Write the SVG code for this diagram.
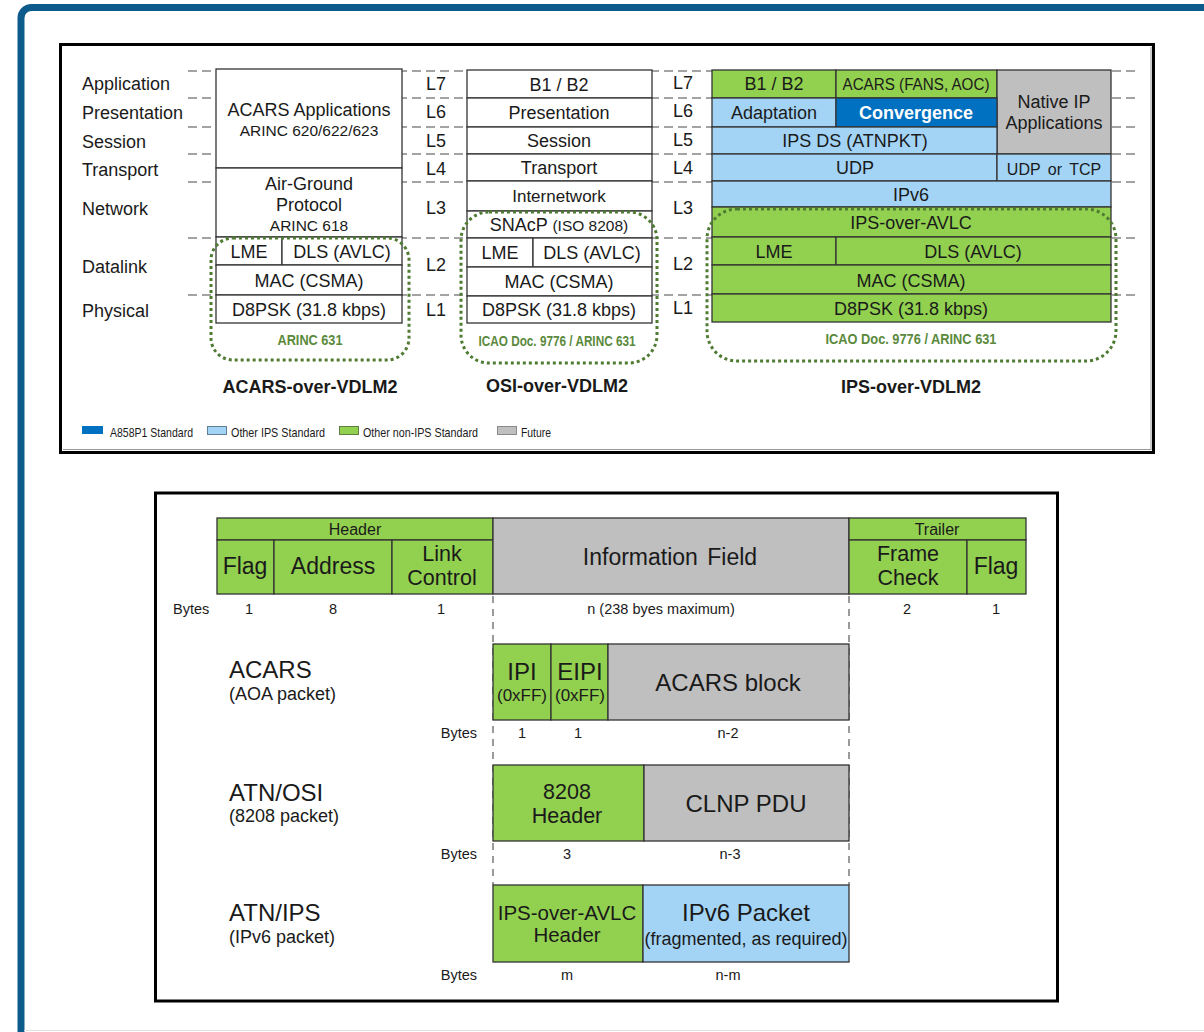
<svg xmlns="http://www.w3.org/2000/svg" width="1204" height="1032" viewBox="0 0 1204 1032">
<style>
  text { font-family: "Liberation Sans", Arial, Helvetica, sans-serif; fill: #1a1a1a; }
  .c { text-anchor: middle; }
  .f18 { font-size: 18px; }
  .f16 { font-size: 16px; }
  .f15 { font-size: 15.5px; }
  .f22 { font-size: 23px; }
  .f2l { font-size: 21.5px; }
  .f24 { font-size: 24px; }
  .sm { font-size: 14.5px; }
  .lg { font-size: 13.5px; }
  .b { font-weight: bold; }
  .cell { stroke: #333; stroke-width: 1.3; }
  .w { fill: #fff; }
  .g { fill: #92d050; }
  .lb { fill: #a3d4f6; }
  .db { fill: #0070c0; }
  .gr { fill: #bfbfbf; }
  .guide { stroke: #a3a3a3; stroke-width: 2; stroke-dasharray: 9 5; fill: none; }
  .vguide { stroke: #9a9a9a; stroke-width: 2; stroke-dasharray: 7 6; fill: none; }
  .dot { fill: none; stroke: #4f7b33; stroke-width: 3; stroke-dasharray: 3 3; }
  .std { fill: #5b8a3c; font-weight: bold; font-size: 14px; }
  .panel { fill: #fff; stroke: #000; stroke-width: 3; }
</style>

<rect width="1204" height="1032" fill="#fff"/>
<!-- page frame -->
<path d="M21 1032 V18 A10.5 10.5 0 0 1 31.5 7.5 H1204" fill="none" stroke="#0d5a8c" stroke-width="7"/>
<line x1="24" y1="1030.5" x2="1204" y2="1030.5" stroke="#e2e2e2" stroke-width="1"/>

<!-- ================= protocol stacks panel ================= -->
<g id="stack-panel">
  <rect class="panel" x="60.5" y="44.5" width="1093" height="408"/>
  <line x1="1151" y1="47" x2="1151" y2="450" stroke="#9a9a9a" stroke-width="1"/>
  <line x1="63" y1="449.5" x2="1151" y2="449.5" stroke="#9a9a9a" stroke-width="1"/>
</g>

<g id="layer-guides">
  <path class="guide" d="M188 71H1135 M188 98H1135 M188 127H1135 M188 154H1135 M188 182H1135 M188 238H1135 M188 295H1135"/>
</g>

<g id="osi-layer-names" class="f18">
  <text x="82" y="90">Application</text>
  <text x="82" y="119">Presentation</text>
  <text x="82" y="148">Session</text>
  <text x="82" y="176">Transport</text>
  <text x="82" y="215">Network</text>
  <text x="82" y="273">Datalink</text>
  <text x="82" y="317">Physical</text>
</g>

<g id="layer-numbers" class="f18 c">
  <text x="436" y="90">L7</text>
  <text x="436" y="118">L6</text>
  <text x="436" y="147">L5</text>
  <text x="436" y="175">L4</text>
  <text x="436" y="214">L3</text>
  <text x="436" y="271">L2</text>
  <text x="436" y="316">L1</text>
  <text x="683" y="89">L7</text>
  <text x="683" y="117">L6</text>
  <text x="683" y="146">L5</text>
  <text x="683" y="174">L4</text>
  <text x="683" y="214">L3</text>
  <text x="683" y="270">L2</text>
  <text x="683" y="314">L1</text>
</g>

<!-- ACARS over VDL Mode 2 -->
<g id="acars-stack">
  <rect class="cell w" x="216" y="69" width="186" height="99"/>
  <rect class="cell w" x="216" y="168" width="186" height="69"/>
  <rect class="cell w" x="216" y="237" width="66" height="28"/>
  <rect class="cell w" x="282" y="237" width="120" height="28"/>
  <rect class="cell w" x="216" y="265" width="186" height="30"/>
  <rect class="cell w" x="216" y="295" width="186" height="28"/>
  <text class="f18 c" x="309" y="116">ACARS Applications</text>
  <text class="f15 c" x="309" y="136">ARINC 620/622/623</text>
  <text class="f18 c" x="309" y="190">Air-Ground</text>
  <text class="f18 c" x="309" y="211">Protocol</text>
  <text class="f15 c" x="309" y="231">ARINC 618</text>
  <text class="f18 c" x="249" y="258">LME</text>
  <text class="f18 c" x="342" y="258">DLS (AVLC)</text>
  <text class="f18 c" x="309" y="287">MAC (CSMA)</text>
  <text class="f18 c" x="309" y="316">D8PSK (31.8 kbps)</text>
  <rect class="dot" x="211" y="238" width="198" height="122" rx="22"/>
  <text class="std c" x="310" y="345" textLength="65" lengthAdjust="spacingAndGlyphs">ARINC 631</text>
  <text class="f18 b c" x="310" y="393">ACARS-over-VDLM2</text>
</g>

<!-- OSI over VDL Mode 2 -->
<g id="osi-stack">
  <rect class="cell w" x="467" y="70" width="185" height="28"/>
  <rect class="cell w" x="467" y="98" width="185" height="29"/>
  <rect class="cell w" x="467" y="127" width="185" height="27"/>
  <rect class="cell w" x="467" y="154" width="185" height="27"/>
  <rect class="cell w" x="467" y="181" width="185" height="30"/>
  <rect class="cell w" x="467" y="211" width="185" height="27"/>
  <rect class="cell w" x="467" y="238" width="66" height="29"/>
  <rect class="cell w" x="533" y="238" width="119" height="29"/>
  <rect class="cell w" x="467" y="267" width="185" height="29"/>
  <rect class="cell w" x="467" y="296" width="185" height="27"/>
  <text class="f18 c" x="559" y="91">B1 / B2</text>
  <text class="f18 c" x="559" y="119">Presentation</text>
  <text class="f18 c" x="559" y="147">Session</text>
  <text class="f18 c" x="559" y="174">Transport</text>
  <text class="c" x="559" y="202" style="font-size:17px">Internetwork</text>
  <text class="c" x="559" y="231"><tspan class="f18">SNAcP </tspan><tspan class="f15">(ISO 8208)</tspan></text>
  <text class="f18 c" x="500" y="259">LME</text>
  <text class="f18 c" x="592" y="259">DLS (AVLC)</text>
  <text class="f18 c" x="559" y="288">MAC (CSMA)</text>
  <text class="f18 c" x="559" y="316">D8PSK (31.8 kbps)</text>
  <rect class="dot" x="461" y="212" width="196" height="151" rx="28"/>
  <text class="std c" x="557" y="346" textLength="157" lengthAdjust="spacingAndGlyphs">ICAO Doc. 9776 / ARINC 631</text>
  <text class="f18 b c" x="557" y="392">OSI-over-VDLM2</text>
</g>

<!-- IPS over VDL Mode 2 -->
<g id="ips-stack">
  <rect class="cell g" x="712" y="70" width="124" height="28"/>
  <rect class="cell g" x="836" y="70" width="161" height="28"/>
  <rect class="cell gr" x="997" y="70" width="114" height="84"/>
  <rect class="cell lb" x="712" y="98" width="124" height="29"/>
  <rect class="cell db" x="836" y="98" width="161" height="29"/>
  <rect class="cell lb" x="712" y="127" width="285" height="27"/>
  <rect class="cell lb" x="712" y="154" width="285" height="27"/>
  <rect class="cell lb" x="997" y="154" width="114" height="27"/>
  <rect class="cell lb" x="712" y="181" width="399" height="26"/>
  <rect class="cell g" x="712" y="207" width="399" height="30"/>
  <rect class="cell g" x="712" y="237" width="124" height="28"/>
  <rect class="cell g" x="836" y="237" width="275" height="28"/>
  <rect class="cell g" x="712" y="265" width="399" height="29"/>
  <rect class="cell g" x="712" y="294" width="399" height="28"/>
  <text class="f18 c" x="774" y="90">B1 / B2</text>
  <text class="f16 c" x="916" y="90" textLength="147" lengthAdjust="spacingAndGlyphs">ACARS (FANS, AOC)</text>
  <text class="f18 c" x="1054" y="108">Native IP</text>
  <text class="f18 c" x="1054" y="129">Applications</text>
  <text class="f18 c" x="774" y="119">Adaptation</text>
  <text class="f18 b c" x="916" y="119" style="fill:#fff">Convergence</text>
  <text class="f18 c" x="855" y="147">IPS DS (ATNPKT)</text>
  <text class="f18 c" x="855" y="174">UDP</text>
  <text class="f16 c" x="1054" y="175" word-spacing="3">UDP or TCP</text>
  <text class="f18 c" x="911" y="201">IPv6</text>
  <text class="f18 c" x="911" y="229">IPS-over-AVLC</text>
  <text class="f18 c" x="774" y="258">LME</text>
  <text class="f18 c" x="973" y="258">DLS (AVLC)</text>
  <text class="f18 c" x="911" y="287">MAC (CSMA)</text>
  <text class="f18 c" x="911" y="315">D8PSK (31.8 kbps)</text>
  <rect class="dot" x="707" y="209" width="409" height="152" rx="30"/>
  <text class="std c" x="911" y="344" textLength="171" lengthAdjust="spacingAndGlyphs">ICAO Doc. 9776 / ARINC 631</text>
  <text class="f18 b c" x="911" y="393">IPS-over-VDLM2</text>
</g>

<g id="legend" class="lg">
  <rect x="82" y="426" width="21" height="8" fill="#0070c0"/>
  <text x="110" y="437" textLength="83" lengthAdjust="spacingAndGlyphs">A858P1 Standard</text>
  <rect x="207.5" y="426.5" width="19" height="8" fill="#a3d4f6" stroke="#5f7f95" stroke-width="1"/>
  <text x="231" y="437" textLength="94" lengthAdjust="spacingAndGlyphs">Other IPS Standard</text>
  <rect x="339.5" y="426.5" width="19" height="8" fill="#92d050" stroke="#5f7f40" stroke-width="1"/>
  <text x="363" y="437" textLength="115" lengthAdjust="spacingAndGlyphs">Other non-IPS Standard</text>
  <rect x="497.5" y="426.5" width="19" height="8" fill="#bfbfbf" stroke="#8a8a8a" stroke-width="1"/>
  <text x="521" y="437" textLength="30" lengthAdjust="spacingAndGlyphs">Future</text>
</g>

<!-- ================= AVLC frame format panel ================= -->
<g id="frame-panel">
  <rect class="panel" x="155.5" y="493" width="902" height="508"/>
</g>

<g id="field-guides">
  <path class="vguide" d="M493 596V885 M849 596V885"/>
</g>

<g id="avlc-frame">
  <rect class="cell g" x="217" y="518" width="276" height="22"/>
  <rect class="cell g" x="217" y="540" width="57" height="54"/>
  <rect class="cell g" x="274" y="540" width="118" height="54"/>
  <rect class="cell g" x="392" y="540" width="101" height="54"/>
  <rect class="cell gr" x="493" y="518" width="356" height="76"/>
  <rect class="cell g" x="849" y="518" width="177" height="22"/>
  <rect class="cell g" x="849" y="540" width="118" height="54"/>
  <rect class="cell g" x="967" y="540" width="59" height="54"/>
  <text class="f16 c" x="355" y="535">Header</text>
  <text class="f22 c" x="245" y="574">Flag</text>
  <text class="f22 c" x="333" y="574">Address</text>
  <text class="f2l c" x="442" y="561">Link</text>
  <text class="f2l c" x="442" y="585">Control</text>
  <text class="f22 c" x="670" y="565" word-spacing="3">Information Field</text>
  <text class="f16 c" x="937" y="535">Trailer</text>
  <text class="f2l c" x="908" y="561">Frame</text>
  <text class="f2l c" x="908" y="585">Check</text>
  <text class="f22 c" x="996" y="574">Flag</text>
  <text class="sm" x="173" y="614">Bytes</text>
  <text class="sm c" x="249" y="614">1</text>
  <text class="sm c" x="333" y="614">8</text>
  <text class="sm c" x="441" y="614">1</text>
  <text class="sm c" x="661" y="614">n (238 byes maximum)</text>
  <text class="sm c" x="907" y="614">2</text>
  <text class="sm c" x="996" y="614">1</text>
</g>

<g id="acars-packet">
  <text class="f24" x="229" y="678">ACARS</text>
  <text class="f18" x="229" y="700">(AOA packet)</text>
  <rect class="cell g" x="493" y="644" width="58" height="76"/>
  <rect class="cell g" x="551" y="644" width="57" height="76"/>
  <rect class="cell gr" x="608" y="644" width="241" height="76"/>
  <text class="f24 c" x="522" y="680">IPI</text>
  <text class="c" x="522" y="701" style="font-size:17px">(0xFF)</text>
  <text class="f24 c" x="580" y="680">EIPI</text>
  <text class="c" x="580" y="701" style="font-size:17px">(0xFF)</text>
  <text class="f24 c" x="728" y="691">ACARS block</text>
  <text class="sm" x="477" y="738" text-anchor="end">Bytes</text>
  <text class="sm c" x="522" y="738">1</text>
  <text class="sm c" x="578" y="738">1</text>
  <text class="sm c" x="728" y="738">n-2</text>
</g>

<g id="osi-packet">
  <text class="f24" x="229" y="801">ATN/OSI</text>
  <text class="f18" x="229" y="822">(8208 packet)</text>
  <rect class="cell g" x="493" y="765" width="151" height="76"/>
  <rect class="cell gr" x="644" y="765" width="205" height="76"/>
  <text class="f2l c" x="567" y="799">8208</text>
  <text class="f2l c" x="567" y="823">Header</text>
  <text class="f24 c" x="746" y="812">CLNP PDU</text>
  <text class="sm" x="477" y="859" text-anchor="end">Bytes</text>
  <text class="sm c" x="567" y="859">3</text>
  <text class="sm c" x="730" y="859">n-3</text>
</g>

<g id="ips-packet">
  <text class="f24" x="229" y="921">ATN/IPS</text>
  <text class="f18" x="229" y="943">(IPv6 packet)</text>
  <rect class="cell g" x="493" y="885" width="150" height="77"/>
  <rect class="cell lb" x="643" y="885" width="206" height="77"/>
  <text class="c" x="567" y="920" style="font-size:20.5px">IPS-over-AVLC</text>
  <text class="c" x="567" y="942" style="font-size:20.5px">Header</text>
  <text class="f24 c" x="746" y="921">IPv6 Packet</text>
  <text class="f18 c" x="746" y="945">(fragmented, as required)</text>
  <text class="sm" x="477" y="980" text-anchor="end">Bytes</text>
  <text class="sm c" x="567" y="980">m</text>
  <text class="sm c" x="728" y="980">n-m</text>
</g>
</svg>
